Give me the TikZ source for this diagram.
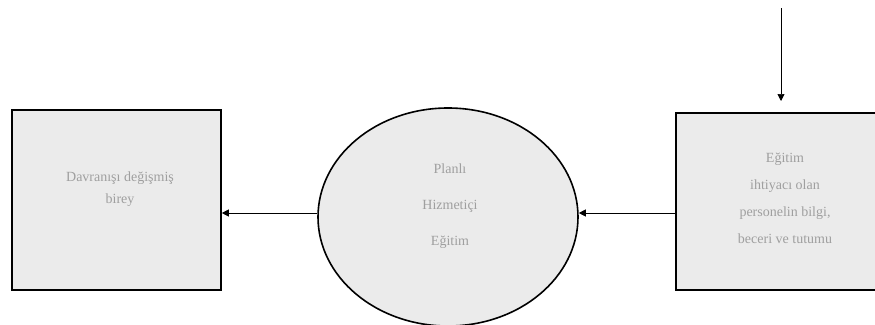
\documentclass[tikz,border=0pt]{standalone}
\usepackage{fontspec}
\setmainfont{Liberation Serif}
\usetikzlibrary{shapes.geometric,arrows.meta}
\begin{document}
\begin{tikzpicture}[x=1pt,y=-1pt,
  blockbox/.style={draw=black,line width=1.6pt,fill=gray!16,inner sep=0pt},
  lbl/.style={text=gray!75,align=center},
  conn/.style={-{Triangle[length=7pt,width=7pt]},line width=0.7pt}]
\useasboundingbox (0,0) rectangle (875,324);
\node[blockbox,minimum width=209pt,minimum height=180pt] (out) at (116.5,200) {};
\node[lbl,font=\fontsize{14}{22}\selectfont] at (120,189) {Davranışı değişmiş\\birey};
\node[blockbox,ellipse,minimum width=260pt,minimum height=218pt] (proc) at (448,217) {};
\node[lbl,font=\fontsize{14}{36}\selectfont] at (450,206) {Planlı\\Hizmetiçi\\Eğitim};
\node[blockbox,minimum width=240pt,minimum height=177pt] (inp) at (796,201.5) {};
\node[lbl,font=\fontsize{14}{27}\selectfont] at (785,198) {Eğitim\\ihtiyacı olan\\personelin bilgi,\\beceri ve tutumu};
\coordinate (src) at (781,8);
\draw[conn] (src) -- (781,101);
\draw[conn] (inp.west |- 0,213) -- (proc.east |- 0,213);
\draw[conn] (proc.west |- 0,213) -- (out.east |- 0,213);
\end{tikzpicture}
\end{document}
